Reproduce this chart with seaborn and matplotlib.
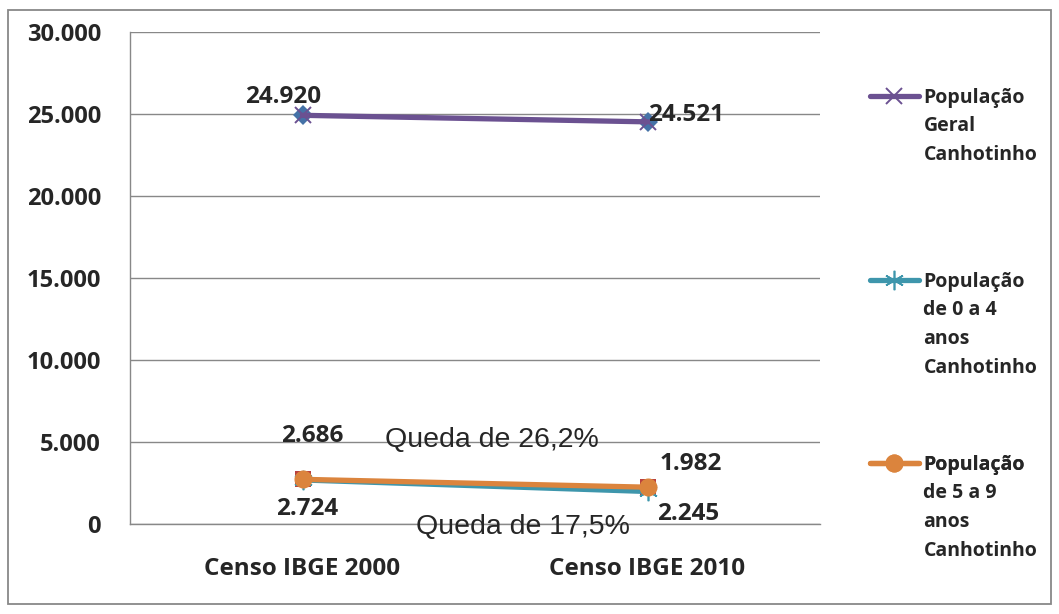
import matplotlib
matplotlib.use("Agg")
import matplotlib.pyplot as plt
import seaborn as sns
from matplotlib.patches import Rectangle

# dados do gráfico
censos = ["Censo IBGE 2000", "Censo IBGE 2010"]
pop_geral = [24920, 24521]
pop_0a4 = [2686, 1982]
pop_5a9 = [2724, 2245]
series_nomes = ["População\nGeral\nCanhotinho",
                "População\nde 0 a 4\nanos\nCanhotinho",
                "População\nde 5 a 9\nanos\nCanhotinho"]
quedas = ["Queda de 26,2%", "Queda de 17,5%"]
y_ticks = [0, 5000, 10000, 15000, 20000, 25000, 30000]

sns.set_style("white")
plt.rcParams["font.family"] = ["Open Sans", "DejaVu Sans"]

W, H = 1059, 614
fig = plt.figure(figsize=(W / 100, H / 100), dpi=100)
ax = fig.add_axes([130 / W, 1 - 524 / H, 690 / W, 492 / H])

# moldura externa
fig.patches.append(Rectangle((8 / W, 10 / H), 1043 / W, 594 / H,
                             transform=fig.transFigure, fill=False,
                             edgecolor="#888888", linewidth=1.3))

roxo = "#6B5191"
azul = "#3E96AC"
laranja = "#DB843D"

x = [0, 1]
# marcadores escondidos por baixo (como no Excel)
sns.lineplot(x=x, y=pop_geral, ax=ax, color="#4572A7", linewidth=0,
             marker="D", markersize=10, mec="#4572A7", mew=0, legend=False)
sns.lineplot(x=x, y=pop_5a9, ax=ax, color="#B9413F", linewidth=0,
             marker="s", markersize=12, mec="#B9413F", mew=0, legend=False)
sns.lineplot(x=x, y=pop_0a4, ax=ax, color=azul, linewidth=0,
             marker=(6, 2, 0), markersize=14, mec=azul, mew=1.2, legend=False)

sns.lineplot(x=x, y=pop_geral, ax=ax, color=roxo, linewidth=3.8,
             marker="x", markersize=12, mec=roxo, mew=1.4, legend=False)
sns.lineplot(x=x, y=pop_0a4, ax=ax, color=azul, linewidth=3.8,
             legend=False)
sns.lineplot(x=x, y=pop_5a9, ax=ax, color=laranja, linewidth=3.8,
             marker="o", markersize=13, mec=laranja, mew=0, legend=False)

ax.set_xlim(-0.5, 1.5)
ax.set_ylim(0, 30000)
ax.set_yticks(y_ticks)
ax.set_yticklabels([f"{v:,}".replace(",", ".") for v in y_ticks],
                   fontsize=17, fontweight="bold")
ax.set_xticks([-0.5, 0.5, 1.5])
ax.set_xticklabels([])
ax.set_xticks(x, minor=True)
ax.set_xticklabels(censos, minor=True, fontsize=17.5, fontweight="bold")
ax.tick_params(axis="x", which="minor", length=0, pad=24)
ax.tick_params(axis="x", which="major", length=6, color="#888888", direction="out")
ax.tick_params(axis="y", length=7, color="#888888", direction="out", pad=14)
ax.yaxis.grid(True, color="#888888", linewidth=1)
ax.set_axisbelow(True)
for s in ["top", "right"]:
    ax.spines[s].set_visible(False)
for s in ["left", "bottom"]:
    ax.spines[s].set_color("#888888")
    ax.spines[s].set_linewidth(1)
ax.set_xlabel("")
ax.set_ylabel("")

# rótulos de dados
kw = dict(textcoords="offset points", fontsize=17.5, fontweight="bold",
          ha="center", va="center_baseline")
ax.annotate("24.920", (0, pop_geral[0]), xytext=(-14, 15), **kw)
ax.annotate("24.521", (1, pop_geral[1]), xytext=(28, 7), **kw)
ax.annotate("2.686", (0, pop_0a4[0]), xytext=(7, 34), **kw)
ax.annotate("2.724", (0, pop_5a9[0]), xytext=(3, -19), **kw)
ax.annotate("1.982", (1, pop_0a4[1]), xytext=(31, 22), **kw)
ax.annotate("2.245", (1, pop_5a9[1]), xytext=(29.5, -17), **kw)

ax.text(0.55, 4700, quedas[0], fontsize=20.5, family="Liberation Sans",
        ha="center", va="baseline")
ax.text(0.64, -610, quedas[1], fontsize=20.5, family="Liberation Sans",
        ha="center", va="baseline")

# legenda: uma por série, marcador alinhado com a primeira linha
estilos = [dict(color=roxo, marker="x", mec=roxo, mew=1.4, ms=12),
           dict(color=azul, marker=(6, 2, 0), mec=azul, mew=1.2, ms=14),
           dict(color=laranja, marker="o", mec=laranja, mew=0, ms=13)]
y_leg = [98, 282, 465]
for nome, est, yl in zip(series_nomes, estilos, y_leg):
    h = plt.Line2D([], [], linewidth=3.8, **est)
    primeira, resto = nome.split("\n", 1)
    leg = ax.legend([h], [primeira], loc="center left",
                    bbox_to_anchor=((870 - 130) / 690, (524 - yl) / 492),
                    frameon=False, prop={"size": 14, "weight": "bold"},
                    handlelength=2.5, handletextpad=0.25, borderpad=0,
                    borderaxespad=0, numpoints=1)
    ax.add_artist(leg)
    t = leg.get_texts()[0]
    ax.annotate(resto, xy=(0, 0), xycoords=t, xytext=(0, -6),
                textcoords="offset points", va="top", ha="left",
                fontsize=14, fontweight="bold", linespacing=1.58,
                zorder=10, annotation_clip=False)

fig.savefig("out.png", dpi=100)
